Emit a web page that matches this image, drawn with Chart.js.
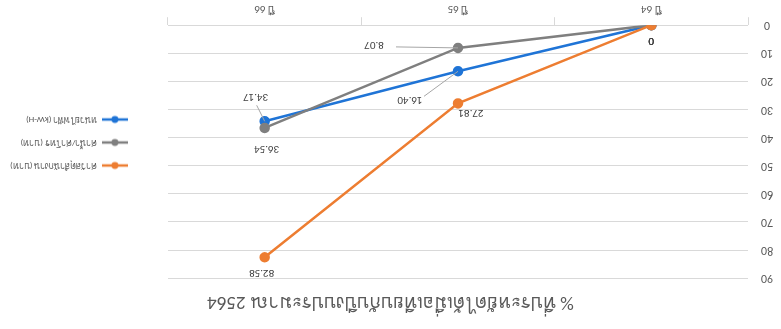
<!DOCTYPE html>
<html>
<head>
<meta charset="utf-8">
<script src="https://cdn.jsdelivr.net/npm/chart.js@4.4.1/dist/chart.umd.min.js"></script>
<style>
  html, body { margin: 0; padding: 0; background: #fff; }
  /* the reference picture is upside down, so the whole chart is turned */
  #wrap { width: 781px; height: 329px; transform: rotate(180deg); }
</style>
</head>
<body>
<div id="wrap"><canvas id="chart"></canvas></div>
<script>
// data
const categories = ['ปี 64', 'ปี 65', 'ปี 66'];
const seriesNames = ['ค่าวัสดุสำนักงาน (บาท)', 'ค่าน้ำ/ค่าโทร (บาท)', 'หน่วยไฟฟ้า (kW-H)'];
const officeValues = [0, 27.81, 82.58];
const waterPhoneValues = [0, 8.07, 36.54];
const electricityValues = [0, 16.40, 34.17];
const yTickMax = 90;
const yTickStep = 10;
const chartTitle = '% ที่ประหยัดได้เมื่อเทียบกับปีงบประมาณ 2564';

const colors = ['#ed7d31', '#7f7f7f', '#1f74d6'];
const fontFamily = 'Calibri, Carlito, "Noto Sans", "DejaVu Sans", sans-serif';

// label placement relative to each point: [dx, dy, leaderX, leaderY]
const labelPlace = [
  [[0, -16], [-13, -9], [3, -15]],
  [[0, -16], [84, 3, 62, 1], [-2, -21]],
  [[0, -16], [48, -28, 34, -25], [9, 25, 8, 16]]
];

function legendMark(color) {
  const c = document.createElement('canvas');
  c.width = 26; c.height = 10;
  const g = c.getContext('2d');
  g.strokeStyle = color; g.lineWidth = 2.5;
  g.beginPath(); g.moveTo(0, 5); g.lineTo(26, 5); g.stroke();
  g.fillStyle = color;
  g.beginPath(); g.arc(13, 5, 3.5, 0, Math.PI * 2); g.fill();
  return c;
}

const pointLabels = {
  id: 'pointLabels',
  afterDatasetsDraw(chart) {
    const ctx = chart.ctx;
    ctx.save();
    ctx.font = '11px ' + fontFamily;
    ctx.fillStyle = '#404040';
    ctx.textAlign = 'center';
    ctx.textBaseline = 'middle';
    chart.data.datasets.forEach((ds, di) => {
      const meta = chart.getDatasetMeta(di);
      meta.data.forEach((pt, i) => {
        const p = labelPlace[di][i];
        const v = ds.data[i];
        const txt = v === 0 ? '0' : v.toFixed(2);
        if (p.length > 2) {
          ctx.strokeStyle = '#a6a6a6';
          ctx.lineWidth = 1;
          ctx.beginPath();
          ctx.moveTo(pt.x, pt.y);
          ctx.lineTo(pt.x + p[2], pt.y + p[3]);
          ctx.stroke();
        }
        ctx.fillText(txt, pt.x + p[0], pt.y + p[1]);
      });
    });
    ctx.restore();
  }
};

const datasets = [officeValues, waterPhoneValues, electricityValues].map((vals, i) => ({
  label: seriesNames[i],
  data: vals,
  borderColor: colors[i],
  backgroundColor: colors[i],
  borderWidth: 2.5,
  pointRadius: 4,
  pointHoverRadius: 4,
  tension: 0
}));

new Chart(document.getElementById('chart'), {
  type: 'line',
  data: { labels: categories, datasets: datasets },
  plugins: [pointLabels],
  options: {
    responsive: true,
    maintainAspectRatio: false,
    animation: false,
    layout: { padding: { left: 0, right: 0, top: 4, bottom: 0 } },
    plugins: {
      title: {
        display: true,
        text: chartTitle,
        color: '#595959',
        font: { family: fontFamily, size: 19, weight: 'normal' },
        padding: { top: 12, bottom: 12 }
      },
      legend: {
        position: 'right',
        maxWidth: 220,
        title: { display: true, text: ' ', font: { size: 10 }, padding: { top: 14, bottom: 14 } },
        labels: {
          color: '#595959',
          font: { family: fontFamily, size: 9 },
          usePointStyle: true,
          pointStyleWidth: 26,
          boxWidth: 26,
          boxHeight: 10,
          padding: 14,
          generateLabels(chart) {
            return chart.data.datasets.map((ds, i) => ({
              text: ds.label,
              pointStyle: legendMark(colors[i]),
              fillStyle: colors[i],
              strokeStyle: colors[i],
              fontColor: '#595959',
              lineWidth: 0,
              datasetIndex: i
            }));
          }
        }
      },
      tooltip: { enabled: false }
    },
    scales: {
      x: {
        offset: true,
        grid: { offset: true, drawOnChartArea: false, drawTicks: true, tickLength: 8, color: '#d9d9d9' },
        border: { display: false },
        ticks: { color: '#595959', font: { family: fontFamily, size: 11 }, padding: 2 }
      },
      y: {
        min: 0,
        max: yTickMax,
        grid: { color: '#d9d9d9', drawTicks: false },
        border: { display: false },
        ticks: { stepSize: yTickStep, color: '#595959', font: { family: fontFamily, size: 12 }, padding: 13, crossAlign: 'center' },
        afterFit(scale) { scale.width = 33; }
      },
      // empty axis on the right only keeps a gap before the legend
      gap: {
        type: 'linear',
        position: 'right',
        display: true,
        grid: { display: false },
        border: { display: false },
        ticks: { display: false },
        afterFit(scale) { scale.width = 26; }
      }
    }
  }
});
</script>
</body>
</html>
